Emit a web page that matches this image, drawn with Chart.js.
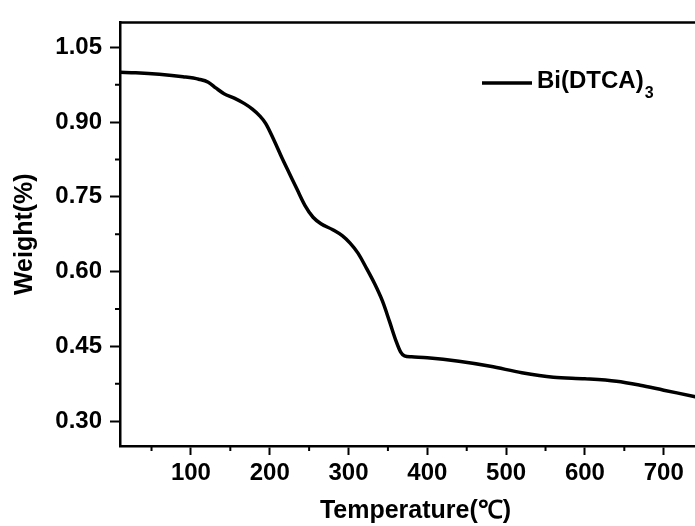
<!DOCTYPE html>
<html>
<head>
<meta charset="utf-8">
<script src="https://cdn.jsdelivr.net/npm/chart.js@4/dist/chart.umd.min.js"></script>
<style>
html,body{margin:0;padding:0;background:#fff;overflow:hidden;}
#wrap{width:695px;height:526px;overflow:hidden;position:relative;}
canvas{display:block;}
</style>
</head>
<body>
<div id="wrap"><canvas id="c" width="718" height="526"></canvas></div>
<script>
// Temperature (°C)
const temperature = [10, 30, 60, 90, 110, 122, 132, 142, 155, 168, 178, 187, 195, 205, 215, 225, 235, 245, 255, 265, 280, 292, 302, 312, 323, 333, 343, 352, 360, 366, 371, 380, 400, 440, 480, 520, 560, 600, 640, 670, 700, 740, 760];
// Weight fraction
const weight = [1.000, 0.999, 0.996, 0.991, 0.986, 0.980, 0.968, 0.957, 0.948, 0.937, 0.926, 0.913, 0.897, 0.865, 0.830, 0.797, 0.764, 0.732, 0.709, 0.696, 0.684, 0.672, 0.657, 0.637, 0.606, 0.576, 0.541, 0.500, 0.462, 0.439, 0.431, 0.429, 0.427, 0.420, 0.410, 0.397, 0.388, 0.385, 0.380, 0.372, 0.362, 0.349, 0.342];
const seriesName = "Bi(DTCA)";
const seriesSub = "3";
const xTicks = [100, 200, 300, 400, 500, 600, 700];
const xMinorTicks = [50, 150, 250, 350, 450, 550, 650, 750];
const yTicks = [0.30, 0.45, 0.60, 0.75, 0.90, 1.05];
const yMinorTicks = [0.375, 0.525, 0.675, 0.825, 0.975];
const xTitle = "Temperature(\u2103)";
const yTitle = "Weight(%)";

const FONT = "'Liberation Sans', Arial, sans-serif";

const framePlugin = {
  id: 'frame',
  afterDraw(chart) {
    const ctx = chart.ctx;
    const a = chart.chartArea;
    const xs = chart.scales.x, ys = chart.scales.y;
    ctx.save();
    ctx.strokeStyle = '#000';
    ctx.lineWidth = 2.5;
    ctx.beginPath();
    ctx.moveTo(a.left, a.top);
    ctx.lineTo(a.right, a.top);
    ctx.lineTo(a.right, a.bottom);
    ctx.stroke();
    // minor ticks
    ctx.lineWidth = 2;
    ctx.beginPath();
    xMinorTicks.forEach(v => {
      const px = xs.getPixelForValue(v);
      ctx.moveTo(px, a.bottom);
      ctx.lineTo(px, a.bottom + 5);
    });
    yMinorTicks.forEach(v => {
      const py = ys.getPixelForValue(v);
      ctx.moveTo(a.left, py);
      ctx.lineTo(a.left - 5, py);
    });
    ctx.stroke();
    // legend
    const lx = 482, ly = 83;
    ctx.lineWidth = 3.5;
    ctx.beginPath();
    ctx.moveTo(lx, ly);
    ctx.lineTo(lx + 50, ly);
    ctx.stroke();
    ctx.fillStyle = '#000';
    ctx.font = "bold 24px " + FONT;
    ctx.textBaseline = 'middle';
    ctx.textAlign = 'left';
    ctx.fillText(seriesName, lx + 55, ly - 2);
    const w = ctx.measureText(seriesName).width;
    ctx.font = "bold 16px " + FONT;
    ctx.textBaseline = 'alphabetic';
    ctx.fillText(seriesSub, lx + 56 + w, ly + 15);
    ctx.restore();
  }
};

new Chart(document.getElementById('c'), {
  type: 'line',
  data: {
    datasets: [{
      label: seriesName + seriesSub,
      data: temperature.map((t, i) => ({x: t, y: weight[i]})),
      borderColor: '#000',
      borderWidth: 3.5,
      pointRadius: 0,
      fill: false,
      cubicInterpolationMode: 'monotone'
    }]
  },
  options: {
    responsive: false,
    animation: false,
    layout: {padding: {top: 15, right: 7, left: 0, bottom: 0}},
    plugins: {legend: {display: false}, tooltip: {enabled: false}},
    scales: {
      x: {
        type: 'linear',
        min: 10, max: 760,
        afterFit(s) { s.height = 80; },
        afterBuildTicks(s) { s.ticks = xTicks.map(v => ({value: v})); },
        border: {display: true, color: '#000', width: 2.5},
        grid: {drawOnChartArea: false, drawTicks: true, tickLength: 9, tickWidth: 2, tickColor: '#000'},
        ticks: {color: '#000', padding: 4, maxRotation: 0, font: {family: FONT, size: 24, weight: 'bold'}, callback: v => String(v)},
        title: {display: true, text: xTitle, color: '#000', padding: {top: 1, bottom: 0}, font: {family: FONT, size: 25, weight: 'bold'}}
      },
      y: {
        type: 'linear',
        min: 0.25, max: 1.10,
        afterFit(s) { s.width = 120; },
        afterBuildTicks(s) { s.ticks = yTicks.map(v => ({value: v})); },
        border: {display: true, color: '#000', width: 2.5},
        grid: {drawOnChartArea: false, drawTicks: true, tickLength: 10, tickWidth: 2, tickColor: '#000'},
        ticks: {color: '#000', padding: 8, font: {family: FONT, size: 24, weight: 'bold'}, callback: v => Number(v).toFixed(2)},
        title: {display: true, text: yTitle, color: '#000', padding: {top: 10, bottom: 0}, font: {family: FONT, size: 25, weight: 'bold'}}
      }
    }
  },
  plugins: [framePlugin]
});
</script>
</body>
</html>
